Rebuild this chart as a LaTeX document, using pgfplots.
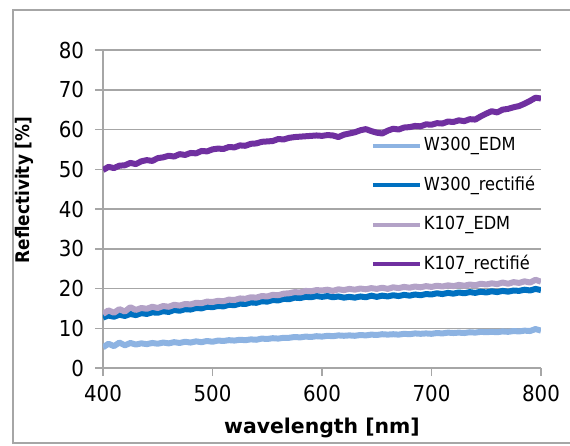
\documentclass[border=0pt]{standalone}
\usepackage{fontspec}
\setmainfont{DejaVu Sans Condensed}
\newfontfamily\widefont{DejaVu Sans}
\usepackage{pgfplots}
\pgfplotsset{compat=1.18}
\definecolor{wedm}{HTML}{8DB3E2}
\definecolor{wrect}{HTML}{0070C0}
\definecolor{kedm}{HTML}{B3A2C7}
\definecolor{krect}{HTML}{7030A0}
\definecolor{gridgray}{HTML}{A6A6A6}

\pgfplotstableread{
wl r
400 5.2
405 6.1
410 5.5
415 6.4
420 5.7
425 6.3
430 5.9
435 6.2
440 6.0
445 6.3
450 6.1
455 6.4
460 6.2
465 6.5
470 6.3
475 6.6
480 6.4
485 6.7
490 6.5
495 6.8
500 6.6
505 6.9
510 6.8
515 7.0
520 6.9
525 7.1
530 7.0
535 7.2
540 7.1
545 7.4
550 7.3
555 7.5
560 7.4
565 7.6
570 7.6
575 7.8
580 7.7
585 7.9
590 7.8
595 8.0
600 7.9
605 8.1
610 8.0
615 8.2
620 8.1
625 8.2
630 8.1
635 8.3
640 8.2
645 8.4
650 8.3
655 8.5
660 8.4
665 8.5
670 8.4
675 8.6
680 8.5
685 8.7
690 8.6
695 8.7
700 8.6
705 8.8
710 8.7
715 8.9
720 8.8
725 8.9
730 8.8
735 9.0
740 8.9
745 9.1
750 9.0
755 9.1
760 9.0
765 9.2
770 9.1
775 9.3
780 9.2
785 9.4
790 9.3
795 9.8
800 9.4
}\wedmdata

\pgfplotstableread{
wl r
400 12.7
405 13.2
410 12.9
415 13.4
420 13.1
425 13.6
430 13.3
435 13.8
440 13.6
445 14.0
450 13.9
455 14.3
460 14.1
465 14.6
470 14.4
475 14.8
480 14.7
485 15.1
490 15.0
495 15.4
500 15.3
505 15.6
510 15.5
515 15.9
520 15.8
525 16.2
530 16.1
535 16.5
540 16.4
545 16.8
550 16.7
555 17.1
560 17.0
565 17.4
570 17.3
575 17.7
580 17.6
585 17.9
590 17.8
595 18.1
600 17.9
605 18.1
610 17.8
615 18.0
620 17.7
625 17.9
630 17.7
635 18.0
640 17.8
645 18.2
650 17.9
655 18.2
660 18.0
665 18.3
670 18.1
675 18.4
680 18.2
685 18.5
690 18.3
695 18.6
700 18.5
705 18.8
710 18.6
715 18.9
720 18.7
725 19.0
730 18.8
735 19.1
740 18.9
745 19.2
750 19.0
755 19.3
760 19.1
765 19.4
770 19.2
775 19.5
780 19.4
785 19.7
790 19.5
795 19.9
800 19.6
}\wrectdata

\pgfplotstableread{
wl r
400 13.6
405 14.5
410 13.9
415 14.8
420 14.2
425 15.3
430 14.6
435 15.1
440 14.9
445 15.4
450 15.1
455 15.6
460 15.4
465 15.9
470 15.7
475 16.1
480 16.0
485 16.4
490 16.3
495 16.7
500 16.6
505 16.9
510 16.8
515 17.2
520 17.1
525 17.5
530 17.4
535 17.8
540 17.7
545 18.1
550 18.0
555 18.4
560 18.3
565 18.7
570 18.8
575 19.1
580 19.0
585 19.4
590 19.3
595 19.6
600 19.5
605 19.7
610 19.4
615 19.8
620 19.6
625 19.9
630 19.7
635 20.0
640 19.8
645 20.1
650 19.9
655 20.2
660 19.9
665 20.3
670 20.1
675 20.4
680 20.2
685 20.5
690 20.3
695 20.6
700 20.4
705 20.7
710 20.5
715 20.8
720 20.6
725 20.9
730 20.7
735 21.0
740 20.8
745 21.2
750 21.0
755 21.3
760 21.1
765 21.5
770 21.2
775 21.6
780 21.4
785 21.8
790 21.5
795 22.2
800 21.7
}\kedmdata

\pgfplotstableread{
wl r
400 49.8
405 50.6
410 50.3
415 50.9
420 51.0
425 51.6
430 51.3
435 52.0
440 52.3
445 52.1
450 52.8
455 53.0
460 53.4
465 53.2
470 53.8
475 53.6
480 54.1
485 54.0
490 54.6
495 54.5
500 55.0
505 55.2
510 55.1
515 55.6
520 55.5
525 56.0
530 55.9
535 56.4
540 56.5
545 56.9
550 57.0
555 57.1
560 57.6
565 57.5
570 57.9
575 58.1
580 58.2
585 58.3
590 58.4
595 58.5
600 58.4
605 58.6
610 58.5
615 58.1
620 58.7
625 59.0
630 59.3
635 59.8
640 60.1
645 59.6
650 59.2
655 59.0
660 59.7
665 60.2
670 60.0
675 60.5
680 60.6
685 60.9
690 60.8
695 61.3
700 61.2
705 61.6
710 61.5
715 62.0
720 61.9
725 62.3
730 62.1
735 62.6
740 62.5
745 63.3
750 64.0
755 64.6
760 64.3
765 65.0
770 65.2
775 65.6
780 65.9
785 66.5
790 67.2
795 68.0
800 67.8
}\krectdata

\begin{document}
\begin{tikzpicture}
\useasboundingbox (-51.5pt,-39pt) rectangle (233.5pt,184pt);
% chart frame
\draw[gridgray, line width=0.9pt] (240pt,179pt) -- (-45pt,179pt) -- (-45pt,-37.5pt) -- (240pt,-37.5pt);
\begin{axis}[
  at={(0,0)}, anchor=south west,
  scale only axis,
  width=219pt, height=159pt,
  xmin=400, xmax=800,
  ymin=0, ymax=80,
  xtick={400,500,600,700,800},
  ytick={0,10,...,80},
  axis lines*=left,
  axis line style={-, gridgray, line width=0.75pt},
  tick align=outside,
  major tick length=4pt,
  tick style={gridgray, line width=0.75pt},
  ymajorgrids,
  grid style={gridgray, line width=0.75pt},
  /pgf/number format/assume math mode=true,
  ticklabel style={font=\fontsize{11}{13}\selectfont},
  xticklabel style={yshift=-1pt},
  yticklabel style={xshift=-2pt},
  xlabel={wavelength [nm]},
  ylabel={Reflectivity [\%]},
  xlabel style={font=\fontsize{10.2}{12}\widefont\bfseries, at={(axis description cs:0.5,-0.2044)}, anchor=base},
  ylabel style={font=\fontsize{9.4}{11}\bfseries, at={(axis description cs:-0.1416,0.56)}, anchor=south, rotate=0},
  legend style={draw=none, fill=none, at={(axis cs:644.7,58.2)}, anchor=north west,
    inner sep=0pt, outer sep=0pt, row sep=10.75pt, column sep=1pt,
    font=\fontsize{9}{11}\selectfont,
    nodes={inner sep=0pt, text height=7pt, text depth=2pt}},
  legend cell align=left,
  legend image code/.code={\draw[#1, line width=2pt, line cap=butt] (0pt,0pt) -- (23.5pt,0pt);},
  every axis plot/.append style={line width=3pt, line join=round},
]
\addplot[wedm] table[x=wl, y=r] {\wedmdata};
\addplot[wrect] table[x=wl, y=r] {\wrectdata};
\addplot[kedm] table[x=wl, y=r] {\kedmdata};
\addplot[krect] table[x=wl, y=r] {\krectdata};
\legend{W300\_EDM, W300\_rectifié, K107\_EDM, K107\_rectifié}
\end{axis}
\end{tikzpicture}
\end{document}
